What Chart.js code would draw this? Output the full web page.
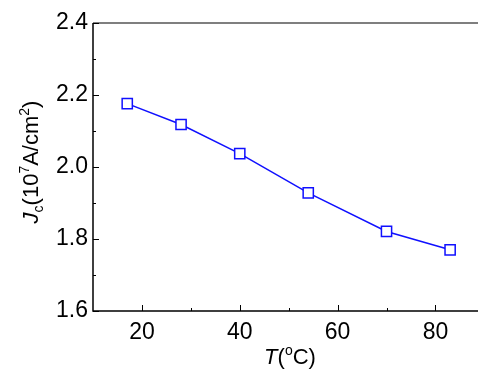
<!DOCTYPE html>
<html><head><meta charset="utf-8">
<script src="https://cdn.jsdelivr.net/npm/chart.js@4/dist/chart.umd.min.js"></script>
<style>html,body{margin:0;padding:0;background:#fff;overflow:hidden}#w{width:478px;height:369px}</style>
</head><body><div id="w"><canvas id="c" width="478" height="369"></canvas></div>
<script>
const temperatures = [17, 28, 40, 54, 70, 83];
const jcValues = [2.176, 2.118, 2.037, 1.928, 1.821, 1.770];
const xMajorTicks = [20, 40, 60, 80];
const xMinorTicks = [30, 50, 70];
const yMajorTicks = [1.6, 1.8, 2.0, 2.2, 2.4];
const yMinorTicks = [1.7, 1.9, 2.1, 2.3];
const FONT = 'Liberation Sans, Arial, sans-serif';

const framePlugin = {
  id: 'frame',
  afterDatasetsDraw(chart) {
    const {ctx, chartArea: a, scales: {x, y}} = chart;
    ctx.save();
    ctx.strokeStyle = '#555';
    ctx.lineWidth = 1.5;
    ctx.beginPath(); ctx.moveTo(a.left, a.top); ctx.lineTo(a.right, a.top); ctx.stroke();
    ctx.strokeStyle = '#000';
    ctx.beginPath();
    ctx.moveTo(a.left, a.top); ctx.lineTo(a.left, a.bottom); ctx.lineTo(a.right, a.bottom);
    ctx.stroke();
    ctx.lineWidth = 1;
    ctx.beginPath();
    xMajorTicks.forEach(v => { const p = Math.round(x.getPixelForValue(v)) + 0.5; ctx.moveTo(p, a.bottom); ctx.lineTo(p, a.bottom - 6); });
    xMinorTicks.forEach(v => { const p = Math.round(x.getPixelForValue(v)) + 0.5; ctx.moveTo(p, a.bottom); ctx.lineTo(p, a.bottom - 3); });
    yMajorTicks.forEach(v => { const p = Math.round(y.getPixelForValue(v)) + 0.5; ctx.moveTo(a.left, p); ctx.lineTo(a.left + 6, p); });
    yMinorTicks.forEach(v => { const p = Math.round(y.getPixelForValue(v)) + 0.5; ctx.moveTo(a.left, p); ctx.lineTo(a.left + 3, p); });
    ctx.stroke();

    ctx.fillStyle = '#000';
    ctx.textBaseline = 'alphabetic';
    const xt = [['T', 'italic 22px ' + FONT, 0], ['(', '22px ' + FONT, 0], ['o', '14px ' + FONT, -9], ['C)', '22px ' + FONT, 0]];
    let tw = 0;
    xt.forEach(s => { ctx.font = s[1]; tw += ctx.measureText(s[0]).width; });
    let cx = 290 - tw / 2;
    const by = 364;
    xt.forEach(s => { ctx.font = s[1]; ctx.fillText(s[0], cx, by + s[2]); cx += ctx.measureText(s[0]).width; });

    ctx.translate(38, 162);
    ctx.rotate(-Math.PI / 2);
    const yt = [['J', 'italic 22px ' + FONT, 0], ['c', '14px ' + FONT, 5], ['(10', '22px ' + FONT, 0], ['7', '14px ' + FONT, -9], ['A/cm', '22px ' + FONT, 0], ['2', '14px ' + FONT, -9], [')', '22px ' + FONT, 0]];
    tw = 0;
    yt.forEach(s => { ctx.font = s[1]; tw += ctx.measureText(s[0]).width; });
    cx = -tw / 2;
    yt.forEach(s => { ctx.font = s[1]; ctx.fillText(s[0], cx, s[2]); cx += ctx.measureText(s[0]).width; });
    ctx.restore();
  }
};

new Chart(document.getElementById('c'), {
  type: 'line',
  data: {
    datasets: [{
      data: temperatures.map((t, i) => ({x: t, y: jcValues[i]})),
      borderColor: '#1010ff',
      borderWidth: 1.5,
      pointStyle: 'rect',
      pointRadius: 7.2,
      pointBorderWidth: 1.5,
      pointBorderColor: '#1010ff',
      pointBackgroundColor: '#fff',
      tension: 0
    }]
  },
  options: {
    responsive: false,
    animation: false,
    events: [],
    layout: {autoPadding: false, padding: {top: 23, right: 0, left: 0, bottom: 0}},
    plugins: {legend: {display: false}, tooltip: {enabled: false}},
    scales: {
      x: {
        type: 'linear', min: 10, max: 88.7,
        afterBuildTicks: s => { s.ticks = xMajorTicks.map(v => ({value: v})); },
        afterFit: s => { s.height = 58; },
        grid: {display: false, drawTicks: false},
        border: {display: false},
        ticks: {color: '#000', font: {family: FONT, size: 23}, padding: 8, maxRotation: 0}
      },
      y: {
        type: 'linear', min: 1.6, max: 2.4,
        afterBuildTicks: s => { s.ticks = yMajorTicks.map(v => ({value: v})); },
        afterFit: s => { s.width = 93; },
        grid: {display: false, drawTicks: false},
        border: {display: false},
        ticks: {color: '#000', font: {family: FONT, size: 23}, padding: 5, callback: v => v.toFixed(1)}
      }
    }
  },
  plugins: [framePlugin]
});
</script></body></html>
